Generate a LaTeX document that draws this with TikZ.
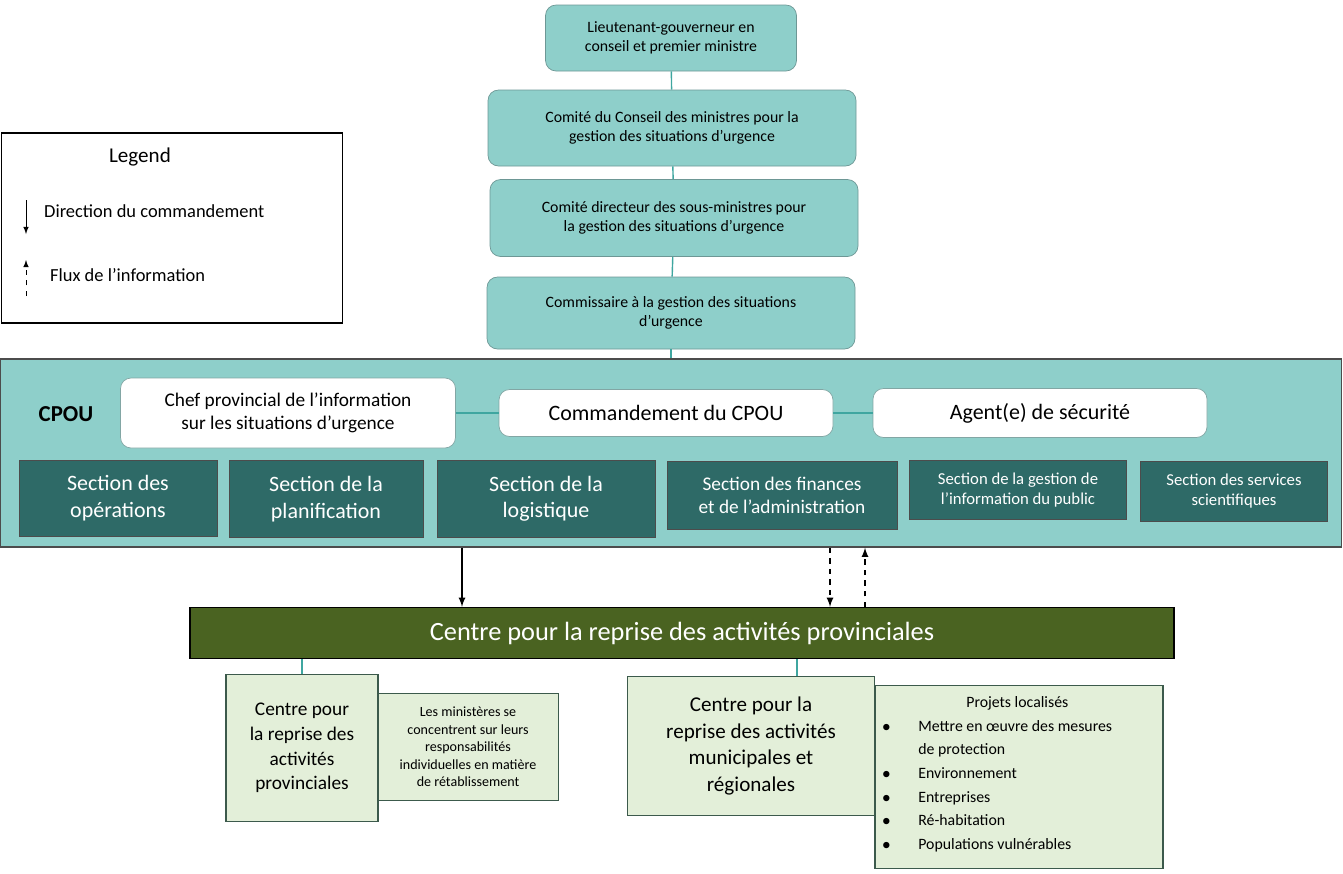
\documentclass[tikz,border=0pt]{standalone}
\usepackage{fontspec}
\setmainfont{Carlito}
\usetikzlibrary{positioning}
\definecolor{tealbg}{HTML}{8ECFCA}
\definecolor{tealdk}{HTML}{2E6A67}
\definecolor{tealln}{HTML}{3FA6A0}
\definecolor{olive}{HTML}{4A6321}
\definecolor{palegr}{HTML}{E3EFD9}
\definecolor{edgegr}{HTML}{3C5A4C}
\newcommand{\puce}[1]{\makebox[0.72cm][l]{#1}}
\begin{document}
\begin{tikzpicture}[x=0.02cm,y=-0.02cm,
    top/.style={draw=tealdk!70,fill=tealbg,rounded corners=6pt,align=center,font=\fontsize{9}{11}\selectfont,inner sep=0pt},
    wbox/.style={draw=tealdk!60,fill=white,rounded corners=6pt,align=center,inner sep=0pt},
    sect/.style={draw=black!70,fill=tealdk,text=white,align=center,inner sep=0pt},
    pale/.style={draw=edgegr,thick,fill=palegr,align=center,inner sep=0pt},
    link/.style={tealln,thick}]
    \useasboundingbox (0,0) rectangle (1343,873);

    % Niveaux superieurs
    \node[top,minimum width=251*0.02cm,minimum height=66*0.02cm] (lg) at (671,38) {Lieutenant-gouverneur en\\conseil et premier ministre};
    \node[top,minimum width=368*0.02cm,minimum height=76*0.02cm] (cc) at (672,128) {Comité du Conseil des ministres pour la\\gestion des situations d'urgence};
    \node[top,minimum width=368*0.02cm,minimum height=77*0.02cm] (cd) at (674,218) {Comité directeur des sous-ministres pour\\la gestion des situations d’urgence};
    \node[top,minimum width=368*0.02cm,minimum height=72*0.02cm] (cs) at (671,313) {Commissaire à la gestion des situations\\d'urgence};

    % Legende
    \node[draw,thick,minimum width=341*0.02cm,minimum height=190*0.02cm] (leg) at (172,228) {};
    \node[font=\fontsize{12}{14}\selectfont] (legt) at (140,157) {Legend};
    \node[font=\fontsize{10.5}{12}\selectfont,anchor=west] (leg1) at (38,211) {Direction du commandement};
    \node[font=\fontsize{10.5}{12}\selectfont,anchor=west] (leg2) at (44,275) {Flux de l’information};
    \coordinate (la1) at (26,200); \coordinate (la2) at (26,234);
    \coordinate (lb1) at (26,296); \coordinate (lb2) at (26,260);
    \draw[-latex] (la1) -- (la2);
    \draw[-latex,dashed] (lb1) -- (lb2);

    % CPOU
    \node[draw=black!70,thick,fill=tealbg,minimum width=1341*0.02cm,minimum height=188*0.02cm] (cpou) at (671,453) {};
    \node[font=\fontsize{13}{15}\selectfont\bfseries] (cpl) at (66,414) {CPOU};
    \node[wbox,minimum width=335*0.02cm,minimum height=70*0.02cm,font=\fontsize{11}{13}\selectfont] (chef) at (288,413) {Chef provincial de l'information\\sur les situations d'urgence};
    \node[wbox,minimum width=334*0.02cm,minimum height=47*0.02cm,font=\fontsize{12.5}{15}\selectfont] (cmd) at (666,413) {Commandement du CPOU};
    \node[wbox,minimum width=334*0.02cm,minimum height=49*0.02cm,font=\fontsize{12.5}{15}\selectfont] (agt) at (1040,413) {Agent(e) de sécurité};

    \node[sect,minimum width=198*0.02cm,minimum height=76*0.02cm,font=\fontsize{12.5}{15}\selectfont] (s1) at (118,498) {Section des\\opérations};
    \node[sect,minimum width=194*0.02cm,minimum height=77*0.02cm,font=\fontsize{12.5}{15}\selectfont] (s2) at (326,499) {Section de la\\planification};
    \node[sect,minimum width=218*0.02cm,minimum height=77*0.02cm,font=\fontsize{12.5}{15}\selectfont] (s3) at (546,499) {Section de la\\logistique};
    \node[sect,minimum width=230*0.02cm,minimum height=68*0.02cm,font=\fontsize{11}{13}\selectfont] (s4) at (782,495) {Section des finances\\et de l’administration};
    \node[sect,minimum width=217*0.02cm,minimum height=59*0.02cm,font=\fontsize{9.5}{11.5}\selectfont] (s5) at (1018,490) {Section de la gestion de\\l’information du public};
    \node[sect,minimum width=187*0.02cm,minimum height=60*0.02cm,font=\fontsize{9.5}{11.5}\selectfont] (s6) at (1234,491) {Section des services\\scientifiques};

    % Centre provincial
    \node[draw=black,thick,fill=olive,text=white,minimum width=984*0.02cm,minimum height=51*0.02cm,font=\fontsize{15}{18}\selectfont] (crap) at (682,633) {Centre pour la reprise des activités provinciales};

    \node[pale,minimum width=152*0.02cm,minimum height=147*0.02cm,font=\fontsize{11}{14}\selectfont] (cp) at (302,748) {Centre pour\\la reprise des\\activités\\provinciales};
    \node[pale,thin,minimum width=180*0.02cm,minimum height=107*0.02cm,font=\fontsize{8}{10}\selectfont] (note) at (468,747) {Les ministères se\\concentrent sur leurs\\responsabilités\\individuelles en matière\\de rétablissement};
    \node[pale,minimum width=247*0.02cm,minimum height=139*0.02cm,font=\fontsize{12}{15}\selectfont] (cm) at (751,746) {Centre pour la\\reprise des activités\\municipales et\\régionales};
    \node[pale,minimum width=288*0.02cm,minimum height=183*0.02cm] (proj) at (1019,777) {};
    \node[font=\fontsize{9}{13.5}\selectfont,anchor=north west,align=left,inner sep=0pt] (projt) at (882,696)
      {\makebox[5.4cm]{Projets localisés}\\
       \puce{$\bullet$}Mettre en œuvre des mesures\\
       \puce{}de protection\\
       \puce{$\bullet$}Environnement\\
       \puce{$\bullet$}Entreprises\\
       \puce{$\bullet$}Ré-habitation\\
       \puce{$\bullet$}Populations vulnérables};

    % Liens
    \draw[link] (lg) -- (cc);
    \draw[link] (cc) -- (cd);
    \draw[link] (cd) -- (cs);
    \draw[link] (cs) -- (cpou.north -| cs);
    \draw[link] (chef) -- (cmd);
    \draw[link] (cmd) -- (agt);
    \draw[link] (crap.south -| cp) -- (cp);
    \draw[link] (crap.south -| 797,0) -- (cm.north -| 797,0);

    % Fleches
    \draw[thick,-latex] (cpou.south -| 462,0) -- (crap.north -| 462,0);
    \draw[thick,dashed,-latex] (cpou.south -| 830,0) -- (crap.north -| 830,0);
    \draw[thick,dashed,-latex] (crap.north -| 865,0) -- (cpou.south -| 865,0);
\end{tikzpicture}
\end{document}
